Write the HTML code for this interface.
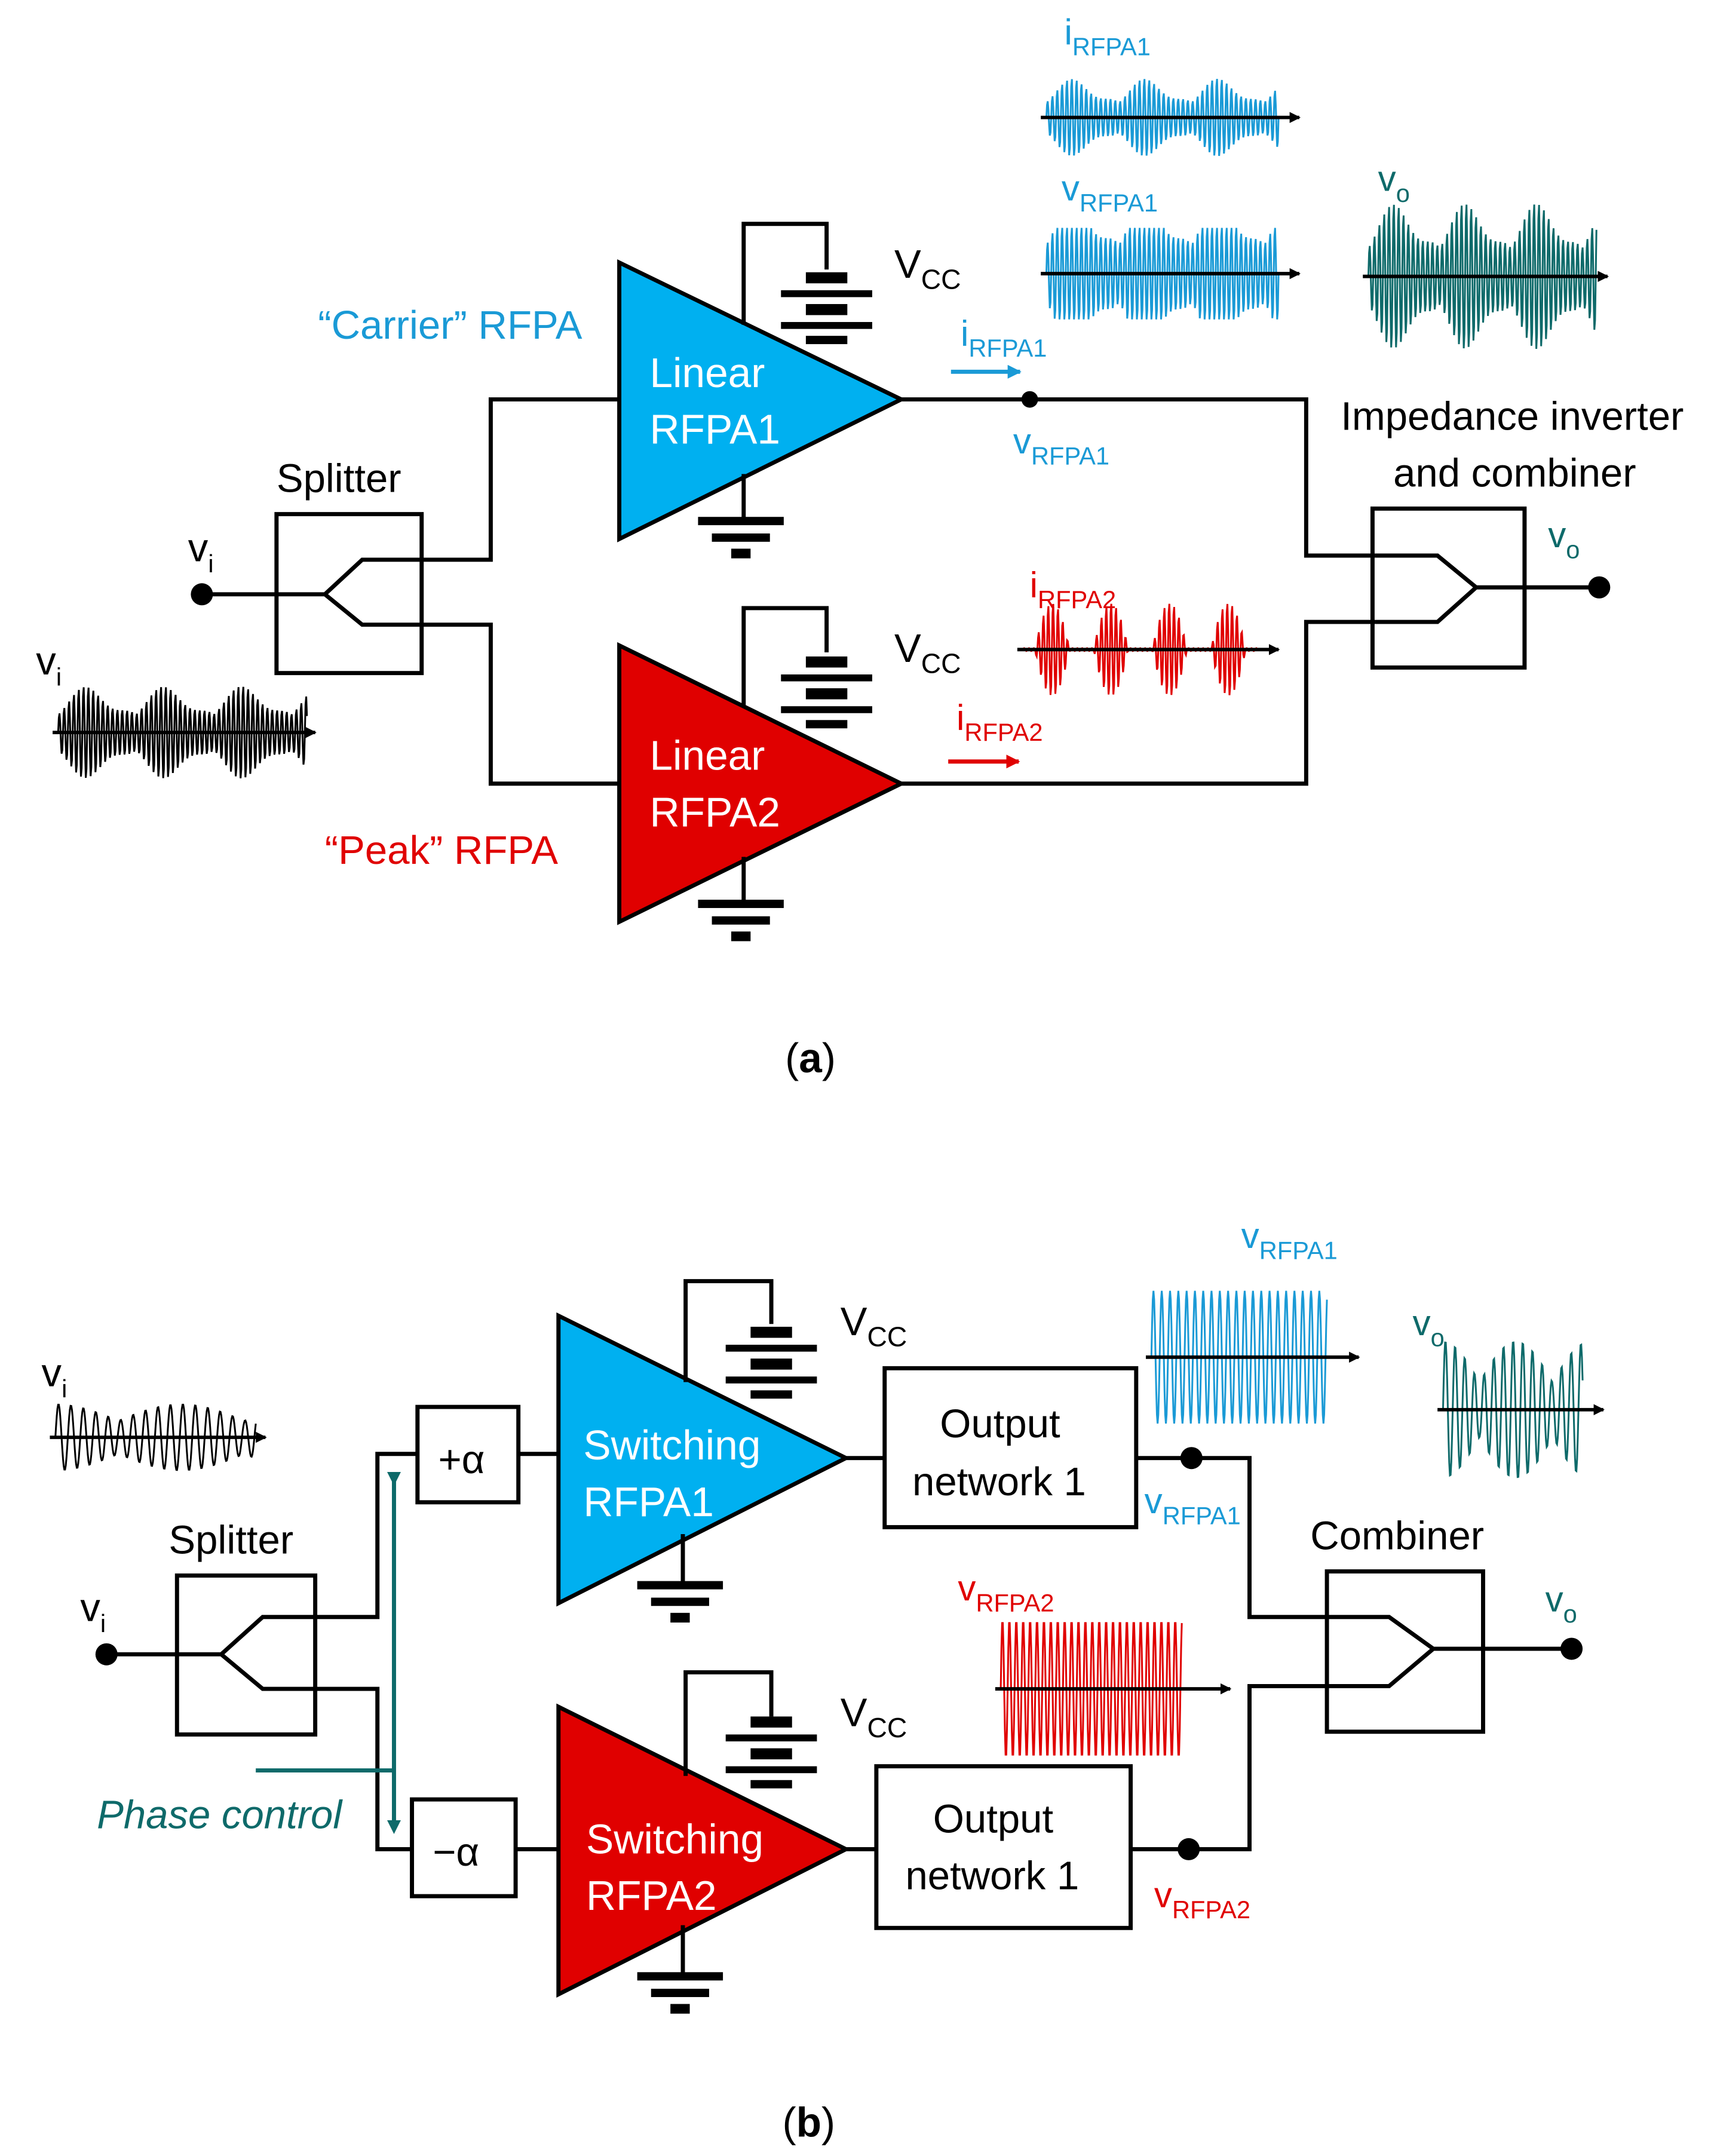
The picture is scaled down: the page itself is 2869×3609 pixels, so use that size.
<!DOCTYPE html>
<html><head><meta charset="utf-8"><style>
html,body{margin:0;padding:0;background:#fff}
svg{display:block}
text{font-family:"Liberation Sans",sans-serif}
</style></head><body>
<svg id="s" width="2869" height="3609" viewBox="0 0 1240 1560" xmlns="http://www.w3.org/2000/svg">
<defs>
<marker id="ak" markerWidth="8" markerHeight="8" refX="7" refY="4" orient="auto" markerUnits="userSpaceOnUse"><path d="M0,0 L8,4 L0,8z" fill="#000"/></marker>
<marker id="ab" markerWidth="10" markerHeight="10" refX="9" refY="5" orient="auto" markerUnits="userSpaceOnUse"><path d="M0,0 L10,5 L0,10z" fill="#1a9ad6"/></marker>
<marker id="ar" markerWidth="10" markerHeight="10" refX="9" refY="5" orient="auto" markerUnits="userSpaceOnUse"><path d="M0,0 L10,5 L0,10z" fill="#e00000"/></marker>
<marker id="at" markerWidth="10" markerHeight="10" refX="5" refY="5" orient="auto" markerUnits="userSpaceOnUse"><path d="M0,0 L10,5 L0,10z" fill="#0e6a6a"/></marker>
</defs>
<g id="w"></g>
<g fill="none" stroke="#000" stroke-width="3">
<!-- (a) -->
<polygon points="448,190 448,390 652,289" fill="#00b0f0" stroke="#000"/>
<polygon points="448,467 448,667 652,567" fill="#e00000" stroke="#000"/>
<path d="M538,235 V162 H598 V195 M538,512 V440 H598 V472 M538,343 V375 M538,620 V652"/>
<path d="M652,289 H945 V402 H995 M652,567 H945 V450 H995"/>
<rect x="200" y="372" width="105" height="115"/>
<path d="M146,430 H235 L262,405 H355 V289 H448 M235,430 L262,452 H355 V567 H448"/>
<rect x="993" y="368" width="110" height="115"/>
<path d="M995,402 H1040 L1068,425 L1040,450 H995 M1068,425 H1157"/>
<!-- (b) -->
<polygon points="404,952 404,1160 612,1055" fill="#00b0f0"/>
<polygon points="404,1235 404,1443 612,1338" fill="#e00000"/>
<path d="M496,1000 V927 H558 V958 M496,1285 V1210 H558 V1242 M494,1110 V1145 M494,1393 V1428"/>
<rect x="640" y="990" width="182" height="115"/>
<rect x="634" y="1278" width="184" height="117"/>
<path d="M612,1055 H640 M612,1338 H634 M822,1055 H904 V1170 H960 M818,1338 H904 V1220 H960"/>
<rect x="302" y="1018" width="73" height="69"/>
<rect x="298" y="1302" width="75" height="70"/>
<path d="M375,1052 H404 M373,1338 H404"/>
<rect x="128" y="1140" width="100" height="115"/>
<path d="M77,1197 H160 L190,1170 H273 V1052 H302 M160,1197 L190,1222 H273 V1338 H298"/>
<rect x="960" y="1137" width="113" height="116"/>
<path d="M960,1170 H1005 L1037,1193 L1005,1220 H960 M1037,1193 H1137"/>
</g>
<!-- batteries & grounds -->
<g fill="#000">
<g id="bat"><rect x="583" y="197" width="30" height="8"/><rect x="565" y="210" width="66" height="5"/><rect x="583" y="220" width="30" height="8"/><rect x="565" y="233" width="66" height="5"/><rect x="583" y="243" width="30" height="6"/></g>
<use href="#bat" y="278"/>
<use href="#bat" x="-40" y="763"/>
<use href="#bat" x="-40" y="1045"/>
<g id="gnd"><rect x="505" y="374" width="62" height="6"/><rect x="515" y="386" width="42" height="6"/><rect x="529" y="397" width="14" height="7"/></g>
<use href="#gnd" y="277"/>
<use href="#gnd" x="-44" y="770"/>
<use href="#gnd" x="-44" y="1053"/>
<circle cx="146" cy="430" r="8"/><circle cx="745" cy="289" r="6"/><circle cx="1157" cy="425" r="8"/>
<circle cx="77" cy="1197" r="8"/><circle cx="862" cy="1055" r="8"/><circle cx="860" cy="1338" r="8"/><circle cx="1137" cy="1193" r="8"/>
</g>
<!-- phase control -->
<g stroke="#0e6a6a" stroke-width="3" fill="none">
<path d="M285,1070 V1322" marker-start="url(#at)" marker-end="url(#at)"/>
<path d="M185,1281 H285"/>
</g>
<path d="M688,269 H738" stroke="#1a9ad6" stroke-width="3" marker-end="url(#ab)"/>
<path d="M686,551 H737" stroke="#e00000" stroke-width="3" marker-end="url(#ar)"/>
<!-- text -->
<g font-size="30" fill="#fff">
<text x="470" y="280">Linear</text><text x="470" y="321">RFPA1</text>
<text x="470" y="557">Linear</text><text x="470" y="598">RFPA2</text>
<text x="422" y="1056">Switching</text><text x="422" y="1097">RFPA1</text>
<text x="424" y="1341">Switching</text><text x="424" y="1382">RFPA2</text>
</g>
<g font-size="29" fill="#000">
<text x="200" y="356">Splitter</text>
<text x="970" y="311">Impedance inverter</text><text x="1008" y="352">and combiner</text>
<text x="647" y="201">V<tspan font-size="20" dy="8">CC</tspan></text>
<text x="647" y="479">V<tspan font-size="20" dy="8">CC</tspan></text>
<text x="608" y="966">V<tspan font-size="20" dy="8">CC</tspan></text>
<text x="608" y="1249">V<tspan font-size="20" dy="8">CC</tspan></text>
<text x="136" y="406">v<tspan font-size="18" dy="8">i</tspan></text>
<text x="26" y="488">v<tspan font-size="18" dy="8">i</tspan></text>
<text x="30" y="1003">v<tspan font-size="18" dy="8">i</tspan></text>
<text x="58" y="1173">v<tspan font-size="18" dy="8">i</tspan></text>
<text x="122" y="1124">Splitter</text>
<text x="948" y="1121">Combiner</text>
<text x="680" y="1040">Output</text><text x="660" y="1082">network 1</text>
<text x="675" y="1326">Output</text><text x="655" y="1367">network 1</text>
<text x="317" y="1066">+α</text><text x="313" y="1350">−α</text>
<text x="568" y="776" font-family="Liberation Serif" font-size="30">(<tspan font-weight="bold">a</tspan>)</text>
<text x="566" y="1546" font-family="Liberation Serif" font-size="30">(<tspan font-weight="bold">b</tspan>)</text>
</g>
<g font-size="29">
<text x="230" y="245" fill="#1a9ad6">“Carrier” RFPA</text>
<text x="235" y="625" fill="#e00000">“Peak” RFPA</text>
<text x="70" y="1323" fill="#0e6a6a" font-style="italic">Phase control</text>
</g>
<g font-size="26" fill="#1a9ad6">
<text x="770" y="32">i<tspan font-size="18" dy="8">RFPA1</tspan></text>
<text x="768" y="145">v<tspan font-size="18" dy="8">RFPA1</tspan></text>
<text x="695" y="250">i<tspan font-size="18" dy="8">RFPA1</tspan></text>
<text x="733" y="328">v<tspan font-size="18" dy="8">RFPA1</tspan></text>
<text x="898" y="903">v<tspan font-size="18" dy="8">RFPA1</tspan></text>
<text x="828" y="1095">v<tspan font-size="18" dy="8">RFPA1</tspan></text>
</g>
<g font-size="26" fill="#e00000">
<text x="745" y="432">i<tspan font-size="18" dy="8">RFPA2</tspan></text>
<text x="692" y="528">i<tspan font-size="18" dy="8">RFPA2</tspan></text>
<text x="693" y="1158">v<tspan font-size="18" dy="8">RFPA2</tspan></text>
<text x="835" y="1380">v<tspan font-size="18" dy="8">RFPA2</tspan></text>
</g>
<g font-size="26" fill="#0e6a6a">
<text x="997" y="138">v<tspan font-size="18" dy="8">o</tspan></text>
<text x="1120" y="396">v<tspan font-size="18" dy="8">o</tspan></text>
<text x="1022" y="966">v<tspan font-size="18" dy="8">o</tspan></text>
<text x="1118" y="1166">v<tspan font-size="18" dy="8">o</tspan></text>
</g>
</svg>
<script>
var g=document.getElementById('w'),NS='http://www.w3.org/2000/svg';
function wave(x0,x1,cy,amp,period,env,col,axisEnd,axisCol){
 var d='M'+x0+','+cy;
 for(var x=x0;x<=x1;x+=0.5){var t=(x-x0)/(x1-x0);d+=' L'+x.toFixed(1)+','+(cy-amp*env(t)*Math.sin(2*Math.PI*(x-x0)/period)).toFixed(1);}
 var p=document.createElementNS(NS,'path');p.setAttribute('d',d);p.setAttribute('fill','none');p.setAttribute('stroke',col);p.setAttribute('stroke-width','1.3');g.appendChild(p);
 var l=document.createElementNS(NS,'line');l.setAttribute('x1',x0-4);l.setAttribute('x2',axisEnd);l.setAttribute('y1',cy);l.setAttribute('y2',cy);l.setAttribute('stroke','#000');l.setAttribute('stroke-width','2.5');l.setAttribute('marker-end','url(#ak)');g.appendChild(l);
}
function am(t){return 0.35+0.65*Math.abs(Math.sin(t*Math.PI*3.2))*(0.6+0.4*Math.sin(t*20));}
function pk(t){var v=Math.abs(Math.sin(t*Math.PI*4));return v>0.6?(v-0.6)/0.4:0.03;}
function sat(t){var v=am(t);return Math.min(1,v*1.8);}
function one(){return 1;}
wave(42,222,530,38,3.5,am,'#000',228);
wave(757,925,85,32,3.5,am,'#1a9ad6',940);
wave(757,925,198,34,3.5,sat,'#1a9ad6',940);
wave(990,1155,200,60,3.5,am,'#0e6a6a',1163);
wave(740,910,470,34,3.5,pk,'#e00000',925);
wave(40,185,1040,24,9,function(t){return 0.5+0.5*Math.abs(Math.cos(t*5));},'#000',192);
wave(833,960,982,48,6,one,'#1a9ad6',983);
wave(1044,1145,1020,50,7,function(t){return 0.4+0.6*Math.abs(Math.cos(t*6));},'#0e6a6a',1160);
wave(724,855,1222,50,5,one,'#e00000',890);
</script>
</body></html>
